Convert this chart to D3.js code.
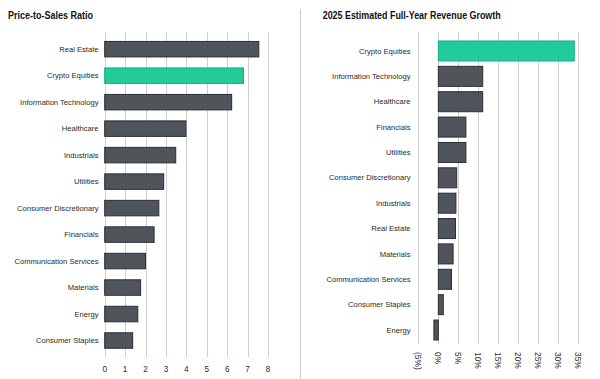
<!DOCTYPE html>
<html>
<head>
<meta charset="utf-8">
<script src="https://cdn.jsdelivr.net/npm/d3@7"></script>
<style>
  body { margin: 0; background: #fff; }
  svg { display: block; font-family: "Liberation Sans", Arial, sans-serif; }
</style>
</head>
<body>
<svg width="600" height="379"></svg>
<script>
// left panel: price-to-sales
var psSectors = ["Real Estate","Crypto Equities","Information Technology","Healthcare","Industrials",
  "Utilities","Consumer Discretionary","Financials","Communication Services","Materials","Energy","Consumer Staples"];
var psValues = [7.55, 6.8, 6.22, 3.98, 3.48, 2.89, 2.65, 2.42, 2.0, 1.76, 1.62, 1.37];
var psTicks = [0,1,2,3,4,5,6,7,8];

// right panel: revenue growth (%)
var rgSectors = ["Crypto Equities","Information Technology","Healthcare","Financials","Utilities",
  "Consumer Discretionary","Industrials","Real Estate","Materials","Communication Services","Consumer Staples","Energy"];
var rgValues = [34, 11.1, 11.1, 6.9, 6.9, 4.6, 4.4, 4.3, 3.7, 3.3, 1.25, -1.1];
var rgTicks = [-5,0,5,10,15,20,25,30,35];

const svg = d3.select('svg');
var dark = "#474c53", darkStroke = "#2b2f34";
var green = "#17c795", greenStroke = "#10b285";
var grid = "#cfcfcf";

function fillOf(name){ return name == "Crypto Equities" ? green : dark; }
function strokeOf(name){ return name == "Crypto Equities" ? greenStroke : darkStroke; }

// separator
svg.append("line")
    .attr("x1",300.5).attr("x2",300.5)
    .attr("y1",9).attr("y2",379)
    .attr("stroke","#cccccc").attr("stroke-width",1);

// titles (squeezed to match the narrow original face)
svg.append("text").attr("x",8).attr("y",18.5)
    .attr("font-size",10).attr("font-weight","bold").attr("fill","#111")
    .attr("textLength",85).attr("lengthAdjust","spacingAndGlyphs")
    .text("Price-to-Sales Ratio");
svg.append("text").attr("x",322.7).attr("y",18.5)
    .attr("font-size",10).attr("font-weight","bold").attr("fill","#111")
    .attr("textLength",178).attr("lengthAdjust","spacingAndGlyphs")
    .text("2025 Estimated Full-Year Revenue Growth");

//---------- left chart
var x1 = d3.scaleLinear().domain([0,8]).range([104.7,268]);
var y1 = d3.scaleBand().domain(psSectors).range([35.95,353.75])
    .paddingInner(0.415).paddingOuter(0.2075);

var left = svg.append("g");
left.selectAll("line.grid").data(psTicks).enter().append("line")
    .attr("class","grid")
    .attr("x1",function(d){return Math.round(x1(d))+0.5}).attr("x2",function(d){return Math.round(x1(d))+0.5})
    .attr("y1",32).attr("y2",357)
    .attr("stroke",grid).attr("stroke-width",1);

left.selectAll("rect").data(psValues).enter().append("rect")
    .attr("x",x1(0))
    .attr("y",function(d,i){return y1(psSectors[i])})
    .attr("width",function(d){return x1(d)-x1(0)})
    .attr("height",y1.bandwidth())
    .attr("fill",function(d,i){return fillOf(psSectors[i])})
    .attr("fill-opacity",0.95)
    .attr("stroke",function(d,i){return strokeOf(psSectors[i])})
    .attr("stroke-width",1);

left.selectAll("text.cat").data(psSectors).enter().append("text")
    .attr("class","cat")
    .attr("x",98.5)
    .attr("y",function(d){return y1(d)+y1.bandwidth()/2})
    .attr("dy","0.35em")
    .attr("text-anchor","end")
    .attr("font-size",7.6).attr("fill","#2a2a2a")
    .text(function(d){return d});

left.selectAll("text.tick").data(psTicks).enter().append("text")
    .attr("class","tick")
    .attr("x",function(d){return x1(d)})
    .attr("y",369)
    .attr("dy","0.35em")
    .attr("text-anchor","middle")
    .attr("font-size",8.2).attr("fill","#2a2a2a")
    .text(function(d){return d});

//---------- right chart
var x2 = d3.scaleLinear().domain([-5,35]).range([418.3,578.3]);
var y2 = d3.scaleBand().domain(rgSectors).range([38.3,342.7])
    .paddingInner(0.211).paddingOuter(0.1055);

var right = svg.append("g");
right.selectAll("line.grid").data(rgTicks).enter().append("line")
    .attr("class","grid")
    .attr("x1",function(d){return Math.round(x2(d))+0.5}).attr("x2",function(d){return Math.round(x2(d))+0.5})
    .attr("y1",32).attr("y2",344)
    .attr("stroke",grid).attr("stroke-width",1);

right.selectAll("rect").data(rgValues).enter().append("rect")
    .attr("x",function(d){return x2(Math.min(0,d))})
    .attr("y",function(d,i){return y2(rgSectors[i])})
    .attr("width",function(d){return Math.abs(x2(d)-x2(0))})
    .attr("height",y2.bandwidth())
    .attr("fill",function(d,i){return fillOf(rgSectors[i])})
    .attr("fill-opacity",0.95)
    .attr("stroke",function(d,i){return strokeOf(rgSectors[i])})
    .attr("stroke-width",1);

right.selectAll("text.cat").data(rgSectors).enter().append("text")
    .attr("class","cat")
    .attr("x",410.5)
    .attr("y",function(d){return y2(d)+y2.bandwidth()/2})
    .attr("dy","0.35em")
    .attr("text-anchor","end")
    .attr("font-size",7.6).attr("fill","#2a2a2a")
    .text(function(d){return d});

right.selectAll("text.tick").data(rgTicks).enter().append("text")
    .attr("class","tick")
    .attr("transform",function(d){return "translate("+x2(d)+",352) rotate(90)"})
    .attr("dy","0.35em")
    .attr("text-anchor","start")
    .attr("font-size",8.4).attr("fill","#2a2a2a")
    .text(function(d){return d < 0 ? "(" + Math.abs(d) + "%)" : d + "%"});
</script>
</body>
</html>
